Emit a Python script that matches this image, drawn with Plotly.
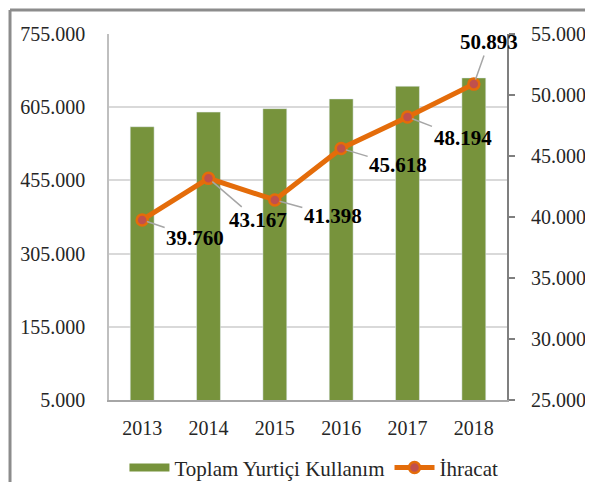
import plotly.graph_objects as go

years = ["2013", "2014", "2015", "2016", "2017", "2018"]
yurtici = [565000, 595000, 602000, 622000, 648000, 665000]
ihracat = [39760, 43167, 41398, 45618, 48194, 50893]
left_ticks = [5000, 155000, 305000, 455000, 605000, 755000]
right_ticks = [25000, 30000, 35000, 40000, 45000, 50000, 55000]

bar_name = "Toplam Yurtiçi Kullanım"
line_name = "İhracat"

label_offsets = [(53, 18), (49, 42), (58, 16), (57, 17), (55, 21), (15, -42)]

FONT = "Liberation Serif"
GREEN = "#77933C"
ORANGE = "#E46C0A"


def tr(v):
    return f"{v:,d}".replace(",", ".")


fig = go.Figure()
fig.add_trace(go.Bar(x=years, y=yurtici, marker_color=GREEN, showlegend=False,
                     name=bar_name, yaxis="y"))
fig.add_trace(go.Scatter(x=years, y=ihracat, mode="lines+markers", name=line_name,
                         yaxis="y2", showlegend=False,
                         line=dict(color=ORANGE, width=5),
                         marker=dict(size=11, color="#C0504D",
                                     line=dict(color=ORANGE, width=2.5))))
# legend-only entries (wide swatches as in the original)
fig.add_trace(go.Scatter(x=[years[0]], y=[None], mode="lines", name=bar_name,
                         line=dict(color=GREEN, width=8)))
fig.add_trace(go.Scatter(x=[years[0]], y=[None], mode="lines+markers", name=line_name,
                         yaxis="y2",
                         line=dict(color=ORANGE, width=5),
                         marker=dict(size=11, color="#C0504D",
                                     line=dict(color=ORANGE, width=2.5))))

for i, (v, (dx, dy)) in enumerate(zip(ihracat, label_offsets)):
    fig.add_annotation(x=i, y=v, xref="x", yref="y2",
                       text="<b>" + tr(v) + "</b>",
                       showarrow=True, arrowhead=0, arrowwidth=1.5,
                       arrowcolor="#A6A6A6", ax=dx, ay=dy, standoff=5,
                       font=dict(family=FONT, size=21, color="black"))

fig.update_layout(
    width=585, height=474,
    margin=dict(l=101, r=86, t=26, b=82),
    paper_bgcolor="white", plot_bgcolor="white",
    font=dict(family=FONT, size=20, color="#262626"),
    bargap=0.64,
    xaxis=dict(type="category", range=[-0.5, 5.5], showline=True,
               linecolor="#A6A6A6", linewidth=1.5,
               showgrid=False, ticks="", tickfont=dict(size=20),
               ticklabelstandoff=9, automargin=False),
    yaxis=dict(range=[5000, 755000], tickvals=left_ticks,
               ticktext=[tr(v) for v in left_ticks], tickfont=dict(size=20),
               showgrid=True, gridcolor="#D9D9D9", gridwidth=1.5,
               showline=True, linecolor="#BFBFBF", linewidth=1.5,
               zeroline=False, ticks="", ticklabelstandoff=18, automargin=False),
    yaxis2=dict(range=[25000, 55000], tickvals=right_ticks,
                ticktext=[tr(v) for v in right_ticks], tickfont=dict(size=20),
                overlaying="y", side="right", showgrid=False, zeroline=False,
                showline=True, linecolor="#7F7F7F", linewidth=2,
                ticks="outside", ticklen=6, tickcolor="#7F7F7F", tickwidth=2,
                ticklabelstandoff=12, automargin=False),
    legend=dict(orientation="h", xref="container", yref="container",
                x=0.523, xanchor="center", y=0.03, yanchor="middle",
                font=dict(size=21, color="#262626"), itemwidth=40,
                traceorder="normal"),
    shapes=[
        dict(type="line", xref="paper", yref="paper", x0=-0.2487, x1=1.22,
             y0=1.0656, y1=1.0656, line=dict(color="#8C8C8C", width=3)),
        dict(type="line", xref="paper", yref="paper", x0=-0.2487, x1=-0.2487,
             y0=1.0656, y1=-0.23, line=dict(color="#8C8C8C", width=3)),
    ],
)

fig.write_html("out.html")
